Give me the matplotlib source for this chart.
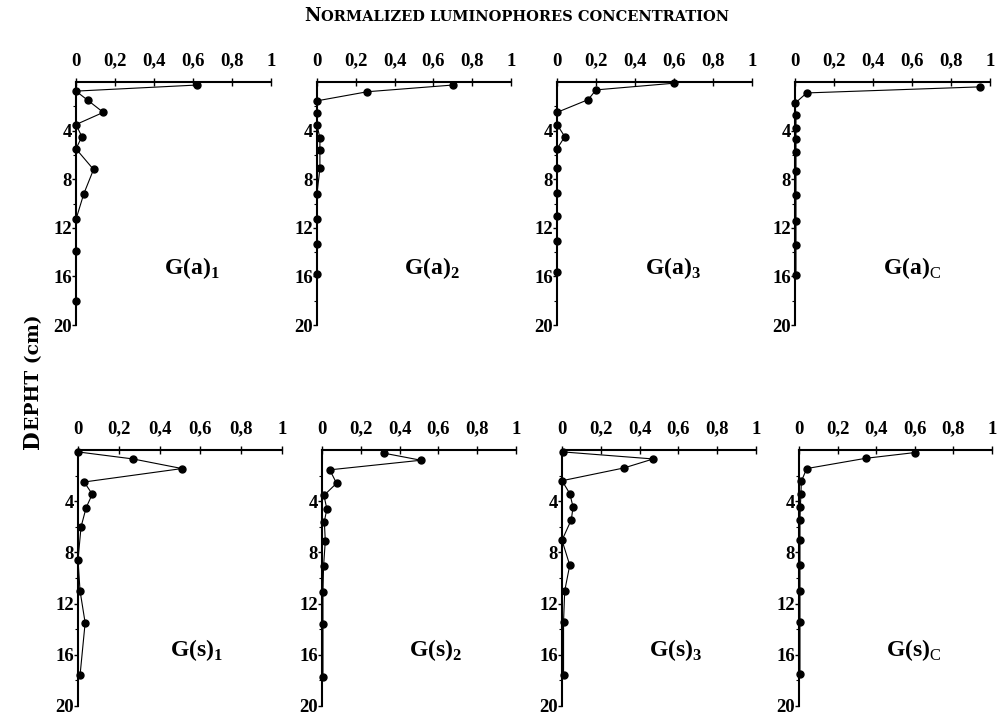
"""
Normalized luminophores concentration profiles vs depth
(8 cores: G(a)1..3, G(a)c, G(s)1..3, G(s)c)
"""

import matplotlib
matplotlib.use("Agg")
import matplotlib.pyplot as plt
from matplotlib.ticker import FixedLocator, FixedFormatter

SERIF = "Liberation Serif"
plt.rcParams["font.family"] = [SERIF, "DejaVu Serif"]
plt.rcParams["mathtext.fontset"] = "custom"
plt.rcParams["mathtext.rm"] = SERIF
plt.rcParams["mathtext.bf"] = SERIF + ":bold"

# --- data (depth in cm, concentration normalized) ---
ga1_depth = [0.25, 0.75, 1.5, 2.5, 3.5, 4.5, 5.5, 7.2, 9.2, 11.3, 13.9, 18.0]
ga1_conc = [0.62, 0.0, 0.06, 0.14, 0.0, 0.03, 0.0, 0.09, 0.04, 0.0, 0.0, 0.0]

ga2_depth = [0.25, 0.8, 1.55, 2.55, 3.55, 4.6, 5.6, 7.1, 9.2, 11.3, 13.3, 15.8]
ga2_conc = [0.70, 0.26, 0.0, 0.0, 0.0, 0.015, 0.015, 0.015, 0.0, 0.0, 0.0, 0.0]

ga3_depth = [0.1, 0.65, 1.45, 2.5, 3.5, 4.5, 5.5, 7.1, 9.1, 11.0, 13.1, 15.6]
ga3_conc = [0.60, 0.20, 0.16, 0.0, 0.0, 0.04, 0.0, 0.0, 0.0, 0.0, 0.0, 0.0]

gac_depth = [0.4, 0.9, 1.75, 2.75, 3.75, 4.7, 5.8, 7.3, 9.3, 11.4, 13.4, 15.9]
gac_conc = [0.95, 0.06, 0.0, 0.005, 0.005, 0.005, 0.005, 0.005, 0.005, 0.005, 0.005, 0.005]

gs1_depth = [0.15, 0.7, 1.45, 2.5, 3.45, 4.5, 6.0, 8.6, 11.0, 13.5, 17.6]
gs1_conc = [0.0, 0.27, 0.51, 0.03, 0.07, 0.04, 0.015, 0.0, 0.01, 0.035, 0.01]

gs2_depth = [0.25, 0.8, 1.55, 2.6, 3.55, 4.6, 5.6, 7.1, 9.1, 11.1, 13.6, 17.7]
gs2_conc = [0.32, 0.51, 0.04, 0.075, 0.01, 0.025, 0.012, 0.017, 0.008, 0.005, 0.005, 0.005]

gs3_depth = [0.15, 0.7, 1.4, 2.4, 3.4, 4.45, 5.45, 7.05, 9.0, 11.0, 13.4, 17.6]
gs3_conc = [0.005, 0.47, 0.32, 0.0, 0.04, 0.057, 0.048, 0.0, 0.04, 0.014, 0.008, 0.008]

gsc_depth = [0.2, 0.65, 1.45, 2.45, 3.45, 4.45, 5.45, 7.0, 9.0, 11.0, 13.4, 17.5]
gsc_conc = [0.60, 0.345, 0.04, 0.012, 0.01, 0.007, 0.005, 0.005, 0.005, 0.005, 0.005, 0.005]

panel_labels = [
    r"$\mathbf{G(a)}_{\mathbf{1}}$", r"$\mathbf{G(a)}_{\mathbf{2}}$",
    r"$\mathbf{G(a)}_{\mathbf{3}}$", r"$\mathbf{G(a)}_{\mathrm{C}}$",
    r"$\mathbf{G(s)}_{\mathbf{1}}$", r"$\mathbf{G(s)}_{\mathbf{2}}$",
    r"$\mathbf{G(s)}_{\mathbf{3}}$", r"$\mathbf{G(s)}_{\mathrm{C}}$",
]
x_ticks = [0, 0.2, 0.4, 0.6, 0.8, 1]
x_ticklabels = ["0", "0,2", "0,4", "0,6", "0,8", "1"]
y_ticks = [4, 8, 12, 16, 20]

series = [
    (ga1_conc, ga1_depth), (ga2_conc, ga2_depth), (ga3_conc, ga3_depth), (gac_conc, gac_depth),
    (gs1_conc, gs1_depth), (gs2_conc, gs2_depth), (gs3_conc, gs3_depth), (gsc_conc, gsc_depth),
]

# --- layout (pixels in a 1001 x 722 canvas) ---
W, H = 1001, 722
cols_top = [(76, 271), (317, 511), (557, 752), (795, 990)]
cols_bot = [(78, 282), (322, 516), (562, 756), (799, 992)]
rows = [(82, 325), (450, 706)]

fig = plt.figure(figsize=(W / 100, H / 100), dpi=100)

for i, (conc, depth) in enumerate(series):
    r = i // 4
    x0, x1 = (cols_top if r == 0 else cols_bot)[i % 4]
    y0, y1 = rows[r]
    ax = fig.add_axes([x0 / W, 1 - y1 / H, (x1 - x0) / W, (y1 - y0) / H])

    ax.plot(conc, depth, color="black", lw=0.8, marker="o", ms=5,
            mfc="black", mec="black", clip_on=False, zorder=3)

    ax.set_xlim(0, 1)
    ax.set_ylim(20, 0)
    for side in ("right", "bottom"):
        ax.spines[side].set_visible(False)
    ax.spines["top"].set_linewidth(1.5)
    ax.spines["left"].set_linewidth(1.5)

    ax.xaxis.tick_top()
    ax.xaxis.set_major_locator(FixedLocator(x_ticks))
    ax.xaxis.set_major_formatter(FixedFormatter(x_ticklabels))
    ax.tick_params(axis="x", direction="inout", length=6, width=1, pad=6,
                   labelsize=13.5)
    ax.yaxis.set_major_locator(FixedLocator(y_ticks))
    ax.yaxis.set_minor_locator(FixedLocator([2, 6, 10, 14, 18]))
    ax.tick_params(axis="y", which="major", direction="out", length=3,
                   width=1, pad=0, labelsize=13.5)
    ax.tick_params(axis="y", which="minor", direction="out", length=2, width=0.8)
    for lab in ax.get_xticklabels() + ax.get_yticklabels():
        lab.set_fontweight("bold")

    ax.text(0.45, 15.3 if r == 0 else 15.6, panel_labels[i], fontsize=17,
            ha="left", va="center")

# small-caps style headings
rend = fig.canvas.get_renderer()


def small_caps(first, rest, big, small, cx, cy, vertical=False):
    rot = 90 if vertical else 0
    kw = dict(family="DejaVu Serif", fontweight="bold", ha="left",
              va="baseline", rotation=rot, rotation_mode="anchor")
    t1 = fig.text(0, 0, first, fontsize=big, **kw)
    t2 = fig.text(0, 0, rest, fontsize=small, **kw)
    b1 = t1.get_window_extent(rend)
    b2 = t2.get_window_extent(rend)
    if vertical:
        l1, l2 = b1.height / H, b2.height / H
        start = cy - (l1 + l2) / 2
        t1.set_position((cx, start))
        t2.set_position((cx, start + l1))
    else:
        l1, l2 = b1.width / W, b2.width / W
        start = cx - (l1 + l2) / 2
        t1.set_position((start, cy))
        t2.set_position((start + l1, cy))


small_caps("N", "ORMALIZED LUMINOPHORES CONCENTRATION", 13, 10.5,
           517 / W, 1 - 21 / H)
small_caps("D", "EPHT (cm)", 15.5, 13.5, 39 / W, 1 - 382 / H, vertical=True)

fig.savefig("out.png", dpi=100)
